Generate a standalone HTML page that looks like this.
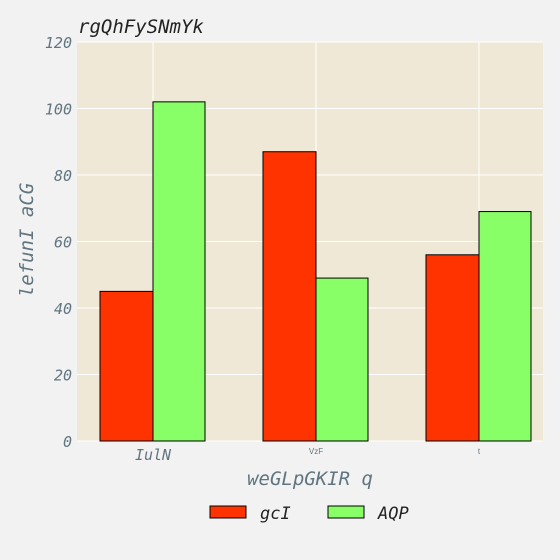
<!DOCTYPE html>
<html><head><meta charset="utf-8"><style>
html,body{margin:0;padding:0;background:#f2f2f2;width:560px;height:560px;overflow:hidden;}
svg{display:block;}
svg text{font-family:"DejaVu Sans Mono","Liberation Mono",monospace;}
</style></head><body>
<svg id="c" width="560" height="560" xmlns="http://www.w3.org/2000/svg">
<rect width="560" height="560" fill="#f2f2f2"/>
<rect x="77" y="42" width="466" height="399" fill="#f0e8d6"/>
<g id="grid"></g><g id="bars"></g><g id="ticks"></g>
<text x="78" y="33" font-size="19" font-style="italic" fill="#222">rgQhFySNmYk</text>
<text x="310" y="485" font-size="19" font-style="italic" fill="#607580" text-anchor="middle">weGLpGKIR q</text>
<text transform="translate(33,240) rotate(-90)" font-size="19" font-style="italic" fill="#607580" text-anchor="middle">lefunI aCG</text>
<g>
<rect x="210" y="506" width="36" height="12" fill="#ff3300" stroke="#000"/>
<text x="260" y="519" font-size="17" font-style="italic" fill="#222">gcI</text>
<rect x="328" y="506" width="36" height="12" fill="#88ff66" stroke="#000"/>
<text x="378" y="519" font-size="17" font-style="italic" fill="#222">AQP</text>
</g>
</svg>
<script>
const categories=["IulN","VzF","t"];
const gciValues=[45,87,56];
const aqpValues=[102,49,69];
const yTicks=[0,20,40,60,80,100,120];
const NS="http://www.w3.org/2000/svg";
const x0=77,x1=543,yTop=42,yBot=441,yMax=120;
const y=v=>yBot-(v/yMax)*(yBot-yTop);
const firstCenter=153,step=163;
const xc=i=>firstCenter+step*i;
const bw=53;
function mk(t,a,p){const e=document.createElementNS(NS,t);for(const k in a)e.setAttribute(k,a[k]);p.appendChild(e);return e;}
const grid=document.getElementById('grid'),bars=document.getElementById('bars'),ticks=document.getElementById('ticks');
yTicks.forEach(v=>{
 const l=mk('line',{x1:x0,x2:x1,y1:y(v),y2:y(v),stroke:'#fff','stroke-width':1},grid);
 
 
 const t=mk('text',{x:72,y:y(v)+6,'font-size':15,'font-style':'italic',fill:'#607580','text-anchor':'end'},ticks);
 t.textContent=v;
 
 
});
categories.forEach((c,i)=>{
 const l=mk('line',{x1:xc(i),x2:xc(i),y1:yTop,y2:yBot,stroke:'#fff','stroke-width':1},grid);
 
 
 const r1=mk('rect',{x:xc(i)-bw,y:y(gciValues[i]),width:bw,height:yBot-y(gciValues[i]),fill:'#ff3300',stroke:'#000','stroke-width':1},bars);
 
 
 const r2=mk('rect',{x:xc(i),y:y(aqpValues[i]),width:bw-1,height:yBot-y(aqpValues[i]),fill:'#88ff66',stroke:'#000','stroke-width':1},bars);
 
 
 const sizes=[15,8,8];
 const t=mk('text',{x:xc(i),y:i==0?460:454,'font-size':sizes[i],'font-style':i==0?'italic':'normal',fill:'#607580','text-anchor':'middle'},ticks);
 if(i>0)t.setAttribute('style','font-family:"Liberation Sans",sans-serif');
 t.textContent=c;
 
 
});
</script>
</body></html>
